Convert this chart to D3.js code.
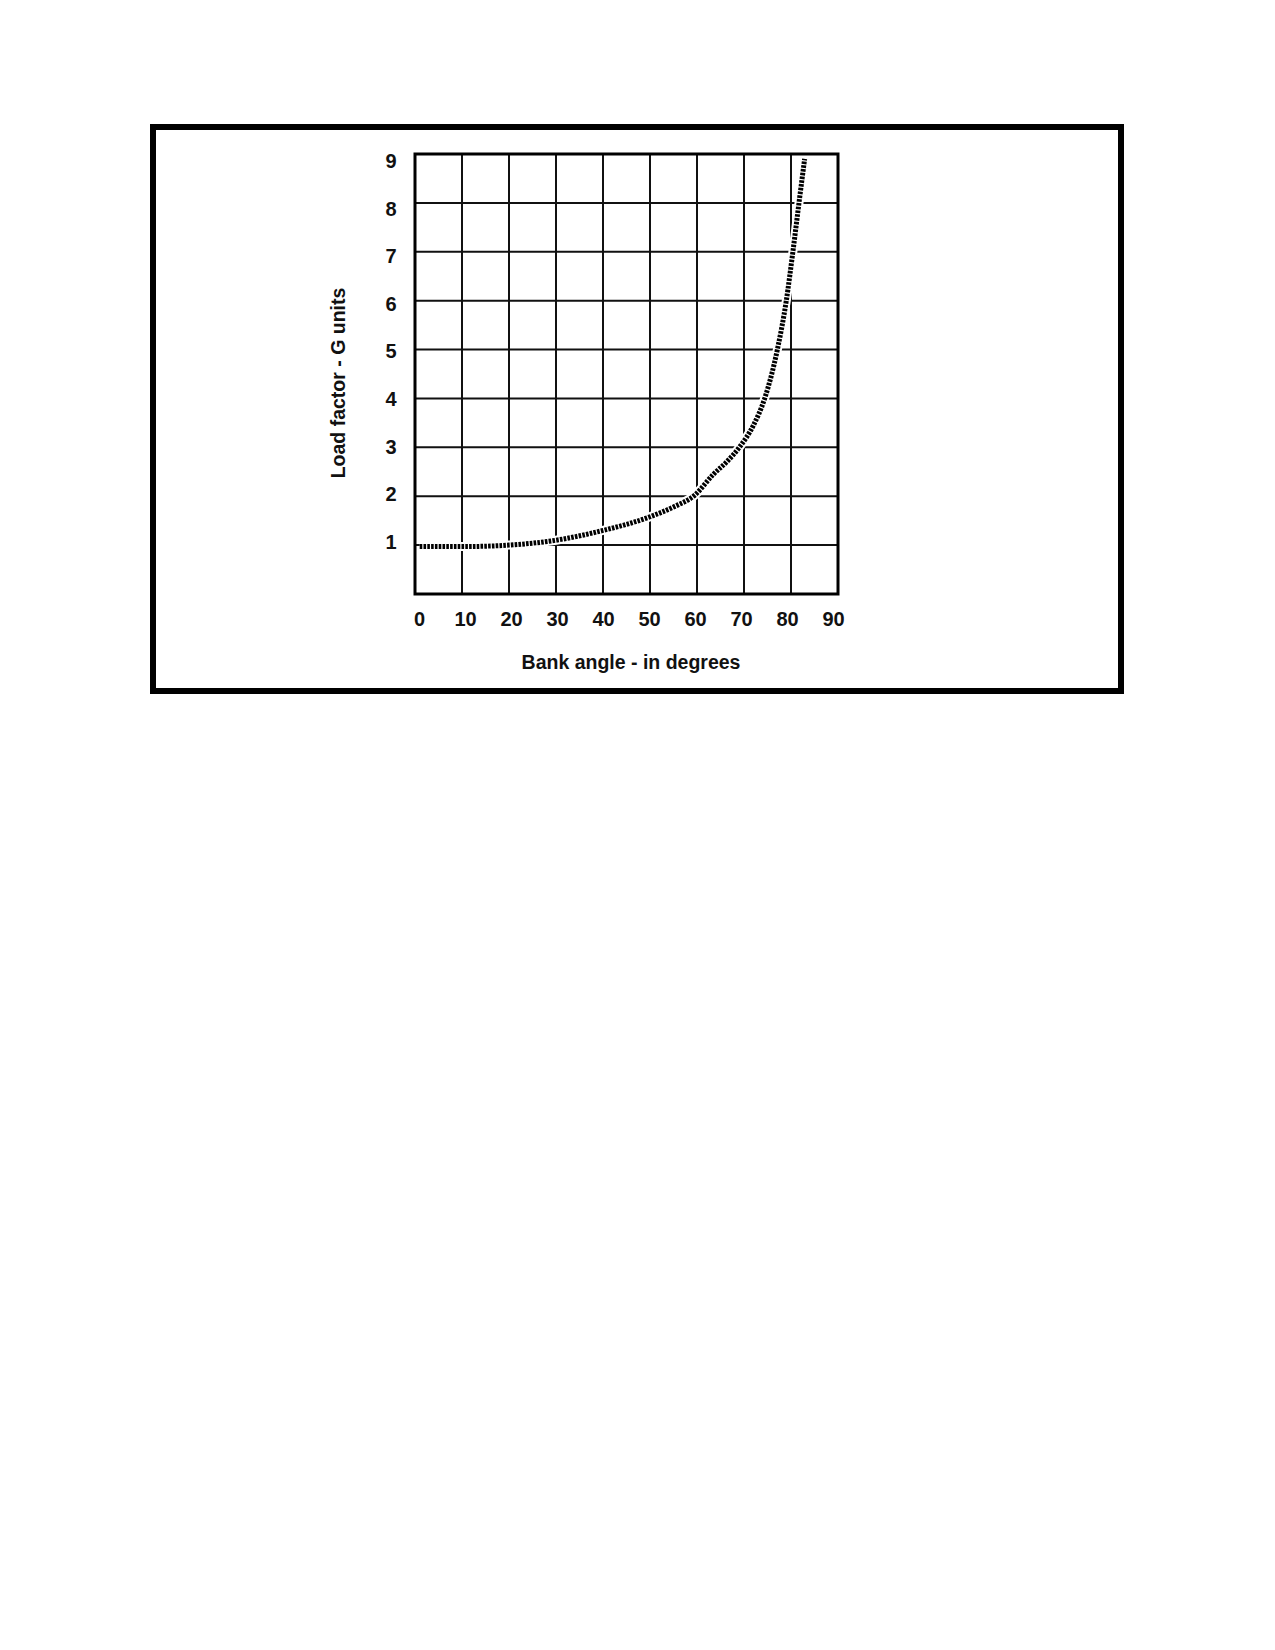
<!DOCTYPE html>
<html>
<head>
<meta charset="utf-8">
<script src="https://cdn.jsdelivr.net/npm/d3@7"></script>
<style>
  html, body { margin: 0; padding: 0; background: #ffffff; }
  svg { display: block; }
  text { font-family: "Liberation Sans", Arial, sans-serif; font-weight: bold; fill: #111111; }
</style>
</head>
<body>
<div id="load-factor-graph"></div>
<script>
// Data
const bankAngles = [1, 10, 20, 30, 40, 50, 55, 59.5, 63.5, 66.5, 69, 72, 74.4, 77.1, 79, 80.4, 81.7, 82.9];
const loadFactors = [0.97, 0.97, 1.0, 1.1, 1.3, 1.58, 1.78, 2.02, 2.45, 2.72, 3.0, 3.45, 4.0, 5.0, 6.0, 7.0, 8.0, 8.9];
const xTicks = [0, 10, 20, 30, 40, 50, 60, 70, 80, 90];
const yTicks = [1, 2, 3, 4, 5, 6, 7, 8, 9];
const xTitle = "Bank angle - in degrees";
const yTitle = "Load factor - G units";

const graphCfg = {
  target: "#load-factor-graph",
  page: { width: 1275, height: 1650 },
  frame: { x: 153, y: 127, width: 968, height: 564 },
  plot: { left: 415, right: 838, top: 154, bottom: 594 },
}

//---------------------------------------------------------------------------------------

// canvas
const svg = d3
  .select(graphCfg.target)
  .append("svg")
  .attr("width", graphCfg.page.width)
  .attr("height", graphCfg.page.height)
  .attr("viewBox", [0, 0, graphCfg.page.width, graphCfg.page.height]);

// outer black frame
svg.append("rect")
  .attr("x", graphCfg.frame.x)
  .attr("y", graphCfg.frame.y)
  .attr("width", graphCfg.frame.width)
  .attr("height", graphCfg.frame.height)
  .attr("fill", "none")
  .attr("stroke", "#000")
  .attr("stroke-width", 6);

//---------------------------------------------------------------------------------------

// scales
const x = d3.scaleLinear()
  .domain([0, 90])
  .range([graphCfg.plot.left, graphCfg.plot.right]);

const y = d3.scaleLinear()
  .domain([0, 9])
  .range([graphCfg.plot.bottom, graphCfg.plot.top]);

// the printed tick labels are spaced a little tighter than the grid
const xLabel = d3.scaleLinear().domain([0, 90]).range([419, 833]);
const yLabel = d3.scaleLinear().domain([1, 9]).range([542, 161]);

// grid
const grid = svg.append("g").attr("stroke", "#111").attr("stroke-width", 2);

grid.selectAll("line.v")
  .data(xTicks)
  .join("line")
  .attr("class", "v")
  .attr("x1", d => x(d))
  .attr("x2", d => x(d))
  .attr("y1", y(0))
  .attr("y2", y(9));

grid.selectAll("line.h")
  .data(yTicks)
  .join("line")
  .attr("class", "h")
  .attr("x1", x(0))
  .attr("x2", x(90))
  .attr("y1", d => y(d))
  .attr("y2", d => y(d));

// plot border
svg.append("rect")
  .attr("x", x(0))
  .attr("y", y(9))
  .attr("width", x(90) - x(0))
  .attr("height", y(0) - y(9))
  .attr("fill", "none")
  .attr("stroke", "#000")
  .attr("stroke-width", 3);

//---------------------------------------------------------------------------------------

// axes: only the labels are kept, the grid does the rest
const xAxis = svg.append("g")
  .attr("transform", `translate(0, ${y(0) + 18})`)
  .call(d3.axisBottom(xLabel).tickValues(xTicks).tickSize(0).tickPadding(0));

const yAxis = svg.append("g")
  .attr("transform", `translate(${x(0) - 24}, 0)`)
  .call(d3.axisLeft(yLabel).tickValues(yTicks).tickSize(0).tickPadding(0));

[xAxis, yAxis].forEach(a => {
  a.select(".domain").remove();
  a.selectAll("text")
    .attr("font-family", null)
    .style("font-size", "20px")
    .attr("fill", "#111");
});
yAxis.selectAll("text").attr("text-anchor", "middle");

// titles
svg.append("text")
  .attr("x", 631)
  .attr("y", 669)
  .attr("text-anchor", "middle")
  .style("font-size", "19.5px")
  .text(xTitle);

svg.append("text")
  .attr("transform", `translate(345, 383) rotate(-90)`)
  .attr("text-anchor", "middle")
  .style("font-size", "19.5px")
  .text(yTitle);

//---------------------------------------------------------------------------------------

// dotted curve
const points = bankAngles.map((a, i) => [a, loadFactors[i]]);

const line = d3.line()
  .x(d => x(d[0]))
  .y(d => y(d[1]))
  .curve(d3.curveMonotoneX);

// white halo breaks the grid around the curve
svg.append("path")
  .attr("d", line(points))
  .attr("fill", "none")
  .attr("stroke", "#fff")
  .attr("stroke-width", 9);

svg.append("path")
  .attr("d", line(points))
  .attr("fill", "none")
  .attr("stroke", "#000")
  .attr("stroke-width", 5)
  .attr("stroke-dasharray", "2.6,1.2");
</script>
</body>
</html>
